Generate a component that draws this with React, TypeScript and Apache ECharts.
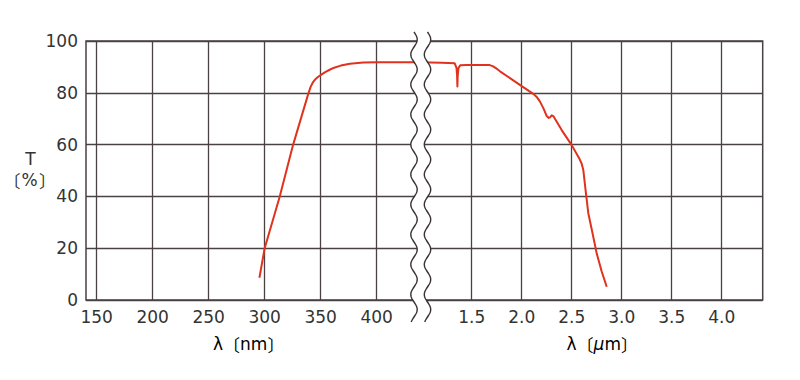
import React, { useEffect, useRef } from "react";
import * as echarts from "echarts";

// Tick labels
const yTicks = [0, 20, 40, 60, 80, 100];
const nmTicks = [150, 200, 250, 300, 350, 400];
const umTicks = [1.5, 2.0, 2.5, 3.0, 3.5, 4.0];

// UV/visible part (nm, %T)
const uvNm = [295.3, 300, 313.4, 325.3, 338.5, 341.0, 343.0, 345.0, 347.5, 350.6, 354.0, 358.0, 362.0, 368.0, 376.0, 388.0, 400.0, 420.0, 441.0];
const uvT = [8.6, 20.0, 39.9, 59.8, 79.0, 82.3, 84.0, 85.1, 86.1, 87.0, 88.0, 88.9, 89.7, 90.5, 91.2, 91.7, 91.8, 91.8, 91.8];

// IR part (µm, %T)
const irUm = [0.95, 1.2, 1.33, 1.348, 1.354, 1.357, 1.36, 1.368, 1.385, 1.45, 1.68, 1.71, 1.75, 1.783, 2.0, 2.116, 2.15, 2.183, 2.22, 2.25, 2.27, 2.283, 2.3, 2.316, 2.4, 2.5, 2.58, 2.6, 2.616, 2.64, 2.666, 2.7, 2.75, 2.8, 2.85];
const irT = [91.8, 91.6, 91.4, 89.6, 86.5, 82.4, 86.5, 89.6, 90.6, 90.7, 90.7, 90.3, 89.3, 88.3, 82.6, 79.6, 78.4, 76.6, 73.8, 71.0, 70.3, 70.5, 71.3, 71.0, 65.6, 59.8, 54.3, 52.6, 50.2, 42.0, 33.5, 27.3, 18.0, 11.0, 5.1];

const GRID_COLOR = "#4a4242";
const CURVE_COLOR = "#e0321c";
const TEXT_COLOR = "#333333";
const FONT = "DejaVu Sans";
const CJK = "Noto Sans CJK JP";

function wavePoints(cx: number, y0: number, y1: number, amp: number, period: number): number[][] {
  const pts: number[][] = [];
  for (let y = y0; y <= y1; y += 1) {
    pts.push([cx + amp * Math.sin((2 * Math.PI * (y - y0)) / period), y]);
  }
  return pts;
}

function txt(text: string, x: number, y: number, font: string, align: string) {
  return {
    type: "text", z: 102, x, y,
    style: { text, fill: TEXT_COLOR, font, align, verticalAlign: "middle" },
  };
}

const richStyles = {
  g: { fontFamily: FONT, fontSize: 17, color: TEXT_COLOR },
  i: { fontFamily: FONT, fontSize: 17, fontStyle: "italic", color: TEXT_COLOR },
  b: { fontFamily: CJK, fontSize: 17, color: TEXT_COLOR },
};

export default function App() {
  const ref = useRef<HTMLDivElement>(null);

  useEffect(() => {
    if (!ref.current) return;
    const chart = echarts.init(ref.current, null, { renderer: "svg" });

    const leftWave = wavePoints(414, 32, 322, 3.2, 30);
    const rightWave = wavePoints(427.5, 32, 322, 3.2, 30);
    const band = leftWave.concat(rightWave.slice().reverse());

    const labelStyle = { color: TEXT_COLOR, fontFamily: FONT, fontSize: 17 };
    const splitLine = { show: true, lineStyle: { color: GRID_COLOR, width: 1.3 } };
    const f17 = `17px "${FONT}"`;
    const c17 = `17px "${CJK}"`;

    chart.setOption({
      animation: false,
      backgroundColor: "#ffffff",
      grid: [
        { left: 86, top: 41, width: 334.5, height: 259, show: true, borderColor: GRID_COLOR, borderWidth: 1.5, outerBoundsMode: "none" },
        { left: 420.5, top: 41, width: 342.2, height: 259, show: true, borderColor: GRID_COLOR, borderWidth: 1.5, outerBoundsMode: "none" },
      ],
      xAxis: [
        {
          type: "value", gridIndex: 0, min: 140.5, max: 439.1,
          axisLine: { show: false },
          axisTick: { show: false, customValues: nmTicks },
          axisLabel: { ...labelStyle, margin: 8, customValues: nmTicks },
          splitLine,
        },
        {
          type: "value", gridIndex: 1, min: 0.988, max: 4.41,
          axisLine: { show: false },
          axisTick: { show: false, customValues: umTicks },
          axisLabel: { ...labelStyle, margin: 8, customValues: umTicks, formatter: (v: number) => v.toFixed(1) },
          splitLine,
        },
      ],
      yAxis: [
        {
          type: "value", gridIndex: 0, min: yTicks[0], max: yTicks[yTicks.length - 1], interval: 20,
          axisLine: { show: false }, axisTick: { show: false },
          axisLabel: { ...labelStyle, margin: 8 },
          splitLine,
        },
        {
          type: "value", gridIndex: 1, min: yTicks[0], max: yTicks[yTicks.length - 1], interval: 20,
          axisLine: { show: false }, axisTick: { show: false },
          axisLabel: { show: false },
          splitLine,
        },
      ],
      series: [
        {
          type: "line", xAxisIndex: 0, yAxisIndex: 0,
          data: uvNm.map((x, i) => [x, uvT[i]]),
          showSymbol: false, smooth: false,
          lineStyle: { color: CURVE_COLOR, width: 2, join: "round" },
          z: 3,
        },
        {
          type: "line", xAxisIndex: 1, yAxisIndex: 1,
          data: irUm.map((x, i) => [x, irT[i]]),
          showSymbol: false, smooth: false,
          lineStyle: { color: CURVE_COLOR, width: 2, join: "round" },
          z: 3,
        },
      ],
      graphic: [
        { type: "polygon", z: 100, shape: { points: band }, style: { fill: "#ffffff", stroke: "none" } },
        { type: "polyline", z: 101, shape: { points: leftWave }, style: { stroke: "#3a3333", lineWidth: 1.4, fill: "none" } },
        { type: "polyline", z: 101, shape: { points: rightWave }, style: { stroke: "#3a3333", lineWidth: 1.4, fill: "none" } },
        // y-axis title
        txt("T", 30.5, 158.5, f17, "center"),
        txt("〔", 20.5, 180, c17, "right"),
        txt("%", 29.5, 180, f17, "center"),
        txt("〕", 39, 180, c17, "left"),
        // x-axis titles
        {
          type: "text", z: 102, x: 213, y: 344,
          style: { text: "{g|λ}{b|〔}{g|nm}{b|〕}", rich: richStyles, align: "left", verticalAlign: "middle" },
        },
        {
          type: "text", z: 102, x: 566.5, y: 344,
          style: { text: "{g|λ}{b|〔}{i|μ}{g|m}{b|〕}", rich: richStyles, align: "left", verticalAlign: "middle" },
        },
      ],
    });

    return () => chart.dispose();
  }, []);

  return <div ref={ref} style={{ position: "fixed", left: 0, top: 0, width: 800, height: 380 }} />;
}
